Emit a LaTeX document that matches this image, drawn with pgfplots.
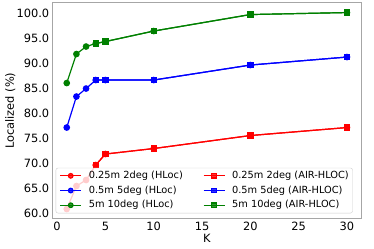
\documentclass[border=0pt]{standalone}
\usepackage{fontspec}
\setmainfont{DejaVu Sans}
\usepackage{pgfplots}
\pgfplotsset{compat=1.18}
\usetikzlibrary{calc}
\definecolor{mplred}{rgb}{1,0,0}
\definecolor{mplblue}{rgb}{0,0,1}
\definecolor{mplgreen}{rgb}{0,0.5,0}
\begin{document}
\begin{tikzpicture}
\begin{axis}[
  scale only axis, width=308bp, height=216bp,
  xmin=-0.45, xmax=31.45, ymin=58.83, ymax=102.07,
  xtick={0,5,...,30}, ytick={60,65,...,100},
  /pgf/number format/assume math mode=true,
  yticklabel style={/pgf/number format/.cd, fixed, fixed zerofill, precision=1},
  xticklabel style={/pgf/number format/.cd, fixed, precision=0},
  ticklabel style={font=\fontsize{11.4bp}{13bp}\selectfont},
  label style={font=\fontsize{11.4bp}{13bp}\selectfont},
  major tick length=0pt,
  tick style={draw=none},
  xtick pos=bottom, ytick pos=left,
  axis line style={black!35, line width=0.8bp},
  xlabel={K}, ylabel={Localized (\%)},
  xlabel style={at={(axis description cs:0.5,-0.088)}, anchor=center},
  ylabel style={at={(axis description cs:-0.138,0.5)}, anchor=center},
  legend columns=2,
  legend cell align=left,
  legend image code/.code={\draw[mark repeat=2,mark phase=2] plot coordinates {(0bp,0bp) (10.5bp,0bp) (21bp,0bp)};},
  legend image post style={mark options={scale=0.85}},
  legend style={at={(axis description cs:0.973,0.026)}, anchor=south east,
    font=\fontsize{9.8bp}{11bp}\selectfont,
    draw=black!20, fill=white, fill opacity=0.8, text opacity=1,
    rounded corners=2bp, row sep=0.4bp,
    inner xsep=3.7bp, inner ysep=0.65bp,
    nodes={inner xsep=0bp, inner ysep=2.3bp, text height=7.5bp, text depth=2.2bp},
    /tikz/every odd column/.append style={column sep=7bp},
    /tikz/every even column/.append style={column sep=20bp}},
  every axis plot/.append style={line width=1.2bp},
  clip=false,
]
\addplot[mplred, mark=*, mark size=2.7bp] coordinates {(1,60.8) (2,65.4) (3,66.6) (4,69.6) (5,71.8) (10,72.9) (20,75.5) (30,77.1)};
\addlegendentry{0.25m 2deg (HLoc)}
\addplot[mplred, mark=square*, mark size=2.6bp] coordinates {(4,69.6) (5,71.8) (10,72.9) (20,75.5) (30,77.1)};
\addlegendentry{0.25m 2deg (AIR-HLOC)}
\addplot[mplblue, mark=*, mark size=2.7bp] coordinates {(1,77.1) (2,83.3) (3,84.9) (4,86.6) (5,86.6) (10,86.6) (20,89.6) (30,91.2)};
\addlegendentry{0.5m 5deg (HLoc)}
\addplot[mplblue, mark=square*, mark size=2.6bp] coordinates {(4,86.6) (5,86.6) (10,86.6) (20,89.6) (30,91.2)};
\addlegendentry{0.5m 5deg (AIR-HLOC)}
\addplot[mplgreen, mark=*, mark size=2.7bp] coordinates {(1,86.0) (2,91.8) (3,93.3) (4,93.9) (5,94.3) (10,96.4) (20,99.7) (30,100.1)};
\addlegendentry{5m 10deg (HLoc)}
\addplot[mplgreen, mark=square*, mark size=2.6bp] coordinates {(4,93.9) (5,94.3) (10,96.4) (20,99.7) (30,100.1)};
\addlegendentry{5m 10deg (AIR-HLOC)}
\coordinate (bl) at (rel axis cs:0,0);
\coordinate (tr) at (rel axis cs:1,1);
\end{axis}
\pgfresetboundingbox
\path[use as bounding box] ($(bl)+(-52.7bp,-30bp)$) rectangle ($(tr)+(13bp,2.7bp)$);
\end{tikzpicture}
\end{document}
